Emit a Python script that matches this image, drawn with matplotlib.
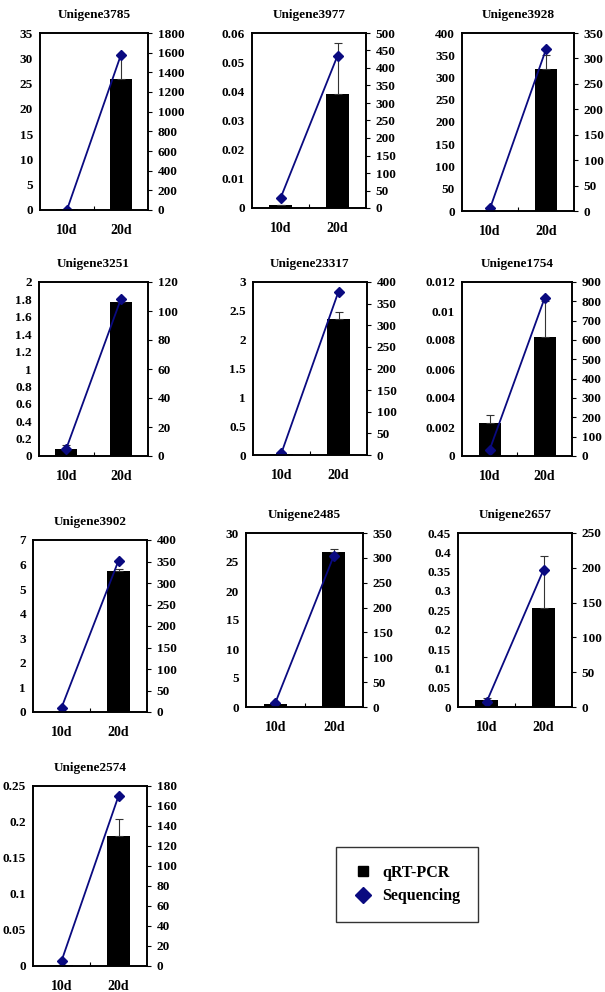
import numpy as np
import matplotlib
matplotlib.use('Agg')
from matplotlib import pyplot as plt
from matplotlib.lines import Line2D
from matplotlib.ticker import MultipleLocator, FixedLocator, FuncFormatter

plt.rcParams['font.family'] = ['Liberation Serif', 'DejaVu Serif']
plt.rcParams['font.weight'] = 'bold'

days = ['10d', '20d']

genes = ['Unigene3785', 'Unigene3977', 'Unigene3928', 'Unigene3251', 'Unigene23317',
         'Unigene1754', 'Unigene3902', 'Unigene2485', 'Unigene2657', 'Unigene2574']

# qRT-PCR bars (10d, 20d) and upper error
qpcr = [[0.1, 26], [0.001, 0.039], [1, 320], [0.08, 1.77], [0.01, 2.35],
        [0.0023, 0.0082], [0.02, 5.72], [0.6, 26.8], [0.018, 0.255], [0.001, 0.18]]
qpcr_err = [[0, 4.5], [0, 0.0175], [0, 30], [0.05, 0.02], [0, 0.13],
            [0.0005, 0.0025], [0, 0.1], [0, 0.5], [0.006, 0.135], [0, 0.024]]

# sequencing values (10d, 20d)
seq = [[3, 1580], [28, 435], [5, 318], [5, 108], [5, 378],
       [30, 815], [10, 352], [8, 304], [7, 197], [5, 170]]

# axis ranges: (max, step) for left (qRT-PCR) and right (sequencing)
left_lim = [(35, 5), (0.06, 0.01), (400, 50), (2, 0.2), (3, 0.5),
            (0.012, 0.002), (7, 1), (30, 5), (0.45, 0.05), (0.25, 0.05)]
right_lim = [(1800, 200), (500, 50), (350, 50), (120, 20), (400, 50),
             (900, 100), (400, 50), (350, 50), (250, 50), (180, 20)]

# axes boxes in pixels: left, right, top, bottom
boxes = [(40, 148, 33, 210), (252, 366, 33, 208), (462, 574, 33, 211),
         (39, 148, 282, 456), (253, 367, 282, 455), (462, 572, 282, 456),
         (33, 147, 540, 712), (246, 363, 533, 707), (458, 572, 533, 707),
         (33, 147, 786, 966)]

W, H = 605, 992
fig = plt.figure(figsize=(W/100, H/100), dpi=100)

navy = '#0a0a80'
fs = 9.5
fmt = FuncFormatter(lambda v, p: '%g' % round(v, 6))

for i, g in enumerate(genes):
    l, r, t, b = boxes[i]
    ax = fig.add_axes([l/W, 1-b/H, (r-l)/W, (b-t)/H])
    x = np.arange(2)
    yerr = np.array([[0, 0], qpcr_err[i]])
    ax.bar(x, qpcr[i], width=0.4, color='black', yerr=yerr,
           error_kw=dict(ecolor='#333333', elinewidth=0.8, capsize=3, capthick=0.8))
    ax.set_xlim(-0.5, 1.5)
    ymax, ystep = left_lim[i]
    ax.set_ylim(0, ymax)
    ax.yaxis.set_major_locator(MultipleLocator(ystep))
    ax.yaxis.set_major_formatter(fmt)
    ax.set_xticks(x)
    ax.set_xticklabels(days)
    ax.xaxis.set_minor_locator(FixedLocator([0.5]))
    ax.tick_params(axis='x', which='major', length=0, pad=10, labelsize=fs+0.5)
    ax.tick_params(axis='x', which='minor', direction='in', length=3, width=0.8)
    ax.tick_params(axis='y', length=0, pad=5, labelsize=fs)
    ax.set_title(g, fontsize=fs, fontweight='bold', pad=11)
    for s in ax.spines.values():
        s.set_linewidth(1.2)

    ax2 = ax.twinx()
    ax2.plot(x, seq[i], color=navy, lw=1.3, marker='D', ms=5.5,
             markerfacecolor=navy, markeredgecolor=navy)
    rmax, rstep = right_lim[i]
    ax2.set_ylim(0, rmax)
    ax2.yaxis.set_major_locator(MultipleLocator(rstep))
    ax2.yaxis.set_major_formatter(fmt)
    ax2.tick_params(axis='y', length=3, width=0.8, pad=4, labelsize=fs)
    for s in ax2.spines.values():
        s.set_linewidth(1.2)

handles = [Line2D([], [], ls='none', marker='s', color='black', ms=7.5),
           Line2D([], [], ls='none', marker='D', color=navy, ms=8)]
fig.legend(handles, ['qRT-PCR', 'Sequencing'], loc='center',
           bbox_to_anchor=(407/W, 1-884.5/H), frameon=True, fancybox=False,
           edgecolor='black', borderpad=1.1, handletextpad=0.6,
           labelspacing=0.45, handlelength=1.2, prop={'weight': 'bold', 'size': 11.5})

fig.savefig('out.png', dpi=100)
